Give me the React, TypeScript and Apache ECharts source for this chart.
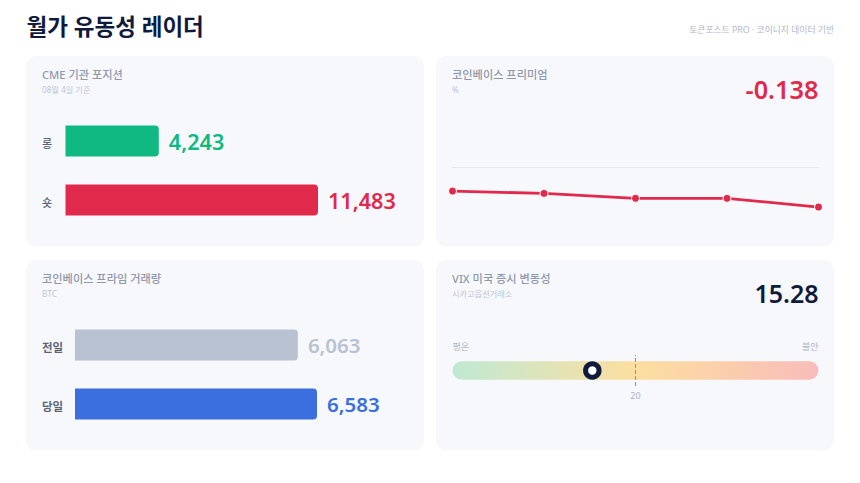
import { useEffect, useRef } from 'react';
import * as echarts from 'echarts';

const FONT = '"Noto Sans", "Noto Sans CJK KR", sans-serif';

const positionLabels = ['롱', '숏'];
const positionValues = [4243, 11483];

const premiumDays = ['D-4', 'D-3', 'D-2', 'D-1', 'D'];
const premiumValues = [-0.083, -0.091, -0.108, -0.108, -0.138];
const premiumLatest = '-0.138';

const volumeLabels = ['전일', '당일'];
const volumeValues = [6063, 6583];

const vixValue = 15.28;
const vixMax = 40;
const vixThreshold = 20;

const cards = [
  { x: 26, y: 56, title: 'CME 기관 포지션', sub: '08월 4일 기준' },
  { x: 436, y: 56, title: '코인베이스 프리미엄', sub: '%' },
  { x: 26, y: 260, title: '코인베이스 프라임 거래량', sub: 'BTC' },
  { x: 436, y: 260, title: 'VIX 미국 증시 변동성', sub: '시카고옵션거래소' },
];

const text = (
  x: number,
  y: number,
  value: string,
  fontSize: number,
  fill: string,
  fontWeight: number | string = 400,
  align = 'left',
) => ({
  type: 'text',
  x,
  y,
  silent: true,
  style: { text: value, fontSize, fill, fontWeight, fontFamily: FONT, align, verticalAlign: 'middle' },
});

const barSeries = (
  axisIndex: number,
  values: number[],
  colors: string[],
  fontSize: number,
) => ({
  type: 'bar',
  xAxisIndex: axisIndex,
  yAxisIndex: axisIndex,
  barWidth: 31,
  data: values.map((value, i) => ({
    value,
    itemStyle: { color: colors[i], borderRadius: [0, 4, 4, 0] },
    label: { color: colors[i] },
  })),
  label: {
    show: true,
    position: 'right',
    distance: 10,
    fontSize,
    fontWeight: 600,
    fontFamily: FONT,
    formatter: (p: { value: number }) => p.value.toLocaleString('en-US'),
  },
});

const categoryAxis = (
  gridIndex: number,
  data: string[],
  margin: number,
  fontSize: number,
  fontWeight: number,
) => ({
  type: 'category',
  gridIndex,
  data,
  inverse: true,
  axisLine: { show: false },
  axisTick: { show: false },
  axisLabel: {
    margin,
    align: 'left',
    verticalAlign: 'top',
    lineHeight: 4,
    fontSize,
    color: '#5b6474',
    fontWeight,
    fontFamily: FONT,
  },
});

const hiddenValueAxis = (gridIndex: number, max: number) => ({
  type: 'value',
  gridIndex,
  min: 0,
  max,
  show: false,
});

export default function App() {
  const chartRef = useRef<HTMLDivElement>(null);

  useEffect(() => {
    if (!chartRef.current) return;
    const chart = echarts.init(chartRef.current, null, { renderer: 'svg' });

    const option = {
      animation: false,
      backgroundColor: '#ffffff',
      grid: [
        { left: 65.5, top: 111.5, width: 252.5, height: 118, outerBoundsMode: 'none' },
        { left: 452.5, top: 167, width: 366, height: 58, outerBoundsMode: 'none' },
        { left: 75, top: 315.5, width: 242, height: 118, outerBoundsMode: 'none' },
        { left: 452.5, top: 355, width: 366, height: 31, outerBoundsMode: 'none' },
      ],
      xAxis: [
        hiddenValueAxis(0, 11483),
        {
          type: 'category',
          gridIndex: 1,
          data: premiumDays,
          boundaryGap: false,
          axisLine: { show: true, onZero: true, lineStyle: { color: '#e6e8ee', width: 1 } },
          axisTick: { show: false },
          axisLabel: { show: false },
        },
        hiddenValueAxis(2, 6583),
        {
          type: 'value',
          gridIndex: 3,
          min: 0,
          max: vixMax,
          splitLine: { show: false },
          axisLine: { show: false },
          axisTick: { show: false },
          axisLabel: {
            customValues: [vixThreshold],
            margin: 5,
            fontSize: 9,
            color: '#a9b1c0',
            fontFamily: FONT,
          },
        },
      ],
      yAxis: [
        categoryAxis(0, positionLabels, 23.5, 11, 500),
        { type: 'value', gridIndex: 1, min: -0.2, max: 0, show: false },
        categoryAxis(2, volumeLabels, 33, 11.5, 600),
        { type: 'category', gridIndex: 3, data: ['VIX'], show: false },
      ],
      series: [
        barSeries(0, positionValues, ['#10b981', '#e1294c'], 21.6),
        {
          type: 'line',
          xAxisIndex: 1,
          yAxisIndex: 1,
          data: premiumValues,
          symbol: 'circle',
          symbolSize: 8,
          lineStyle: { color: '#e1294c', width: 2.8 },
          itemStyle: { color: '#e1294c', borderColor: '#ffffff', borderWidth: 1 },
        },
        barSeries(2, volumeValues, ['#b8c2d2', '#3b6fe0'], 20.5),
        {
          type: 'bar',
          xAxisIndex: 3,
          yAxisIndex: 3,
          barWidth: 18.5,
          data: [vixMax],
          label: { show: false },
          itemStyle: {
            borderRadius: 9.25,
            color: new echarts.graphic.LinearGradient(0, 0, 1, 0, [
              { offset: 0, color: '#bfe9d3' },
              { offset: 0.5, color: '#fddfa0' },
              { offset: 1, color: '#f8bcba' },
            ]),
          },
          markLine: {
            silent: true,
            symbol: 'none',
            label: { show: false },
            lineStyle: { color: '#8a93a6', type: 'dashed', width: 1 },
            data: [{ xAxis: vixThreshold }],
          },
        },
        {
          type: 'scatter',
          xAxisIndex: 3,
          yAxisIndex: 3,
          z: 5,
          data: [[vixValue, 0]],
          symbol: 'circle',
          symbolSize: 13.5,
          itemStyle: { color: '#ffffff', borderColor: '#0f1a3c', borderWidth: 5, opacity: 1 },
        },
      ],
      graphic: [
        ...cards.map((card) => ({
          type: 'rect',
          z: -10,
          silent: true,
          shape: { x: card.x, y: card.y, width: 398, height: 190.5, r: 10 },
          style: { fill: '#f7f8fc' },
        })),
        ...cards.map((card) => text(card.x + 16, card.y + 18.5, card.title, 11.2, '#8f98aa', 500)),
        ...cards.map((card) => text(card.x + 16, card.y + 33, card.sub, 8.2, '#c0c6d2')),
        text(26.5, 26.5, '월가 유동성 레이더', 22.5, '#0f1a3c', 700),
        text(834, 30, '토큰포스트 PRO · 코이니지 데이터 기반', 8.8, '#b4bac6', 400, 'right'),
        text(818.5, 89, premiumLatest, 25.3, '#e1294c', 600, 'right'),
        text(818.5, 293, vixValue.toFixed(2), 25, '#0f1a3c', 600, 'right'),
        text(452.5, 346.5, '평온', 9, '#b0b7c4'),
        text(818.5, 346.5, '불안', 9, '#b0b7c4', 400, 'right'),
      ],
    };

    chart.setOption(option as echarts.EChartsOption);

    return () => {
      chart.dispose();
    };
  }, []);

  return <div ref={chartRef} style={{ position: 'absolute', left: 0, top: 0, width: 860, height: 483 }} />;
}
